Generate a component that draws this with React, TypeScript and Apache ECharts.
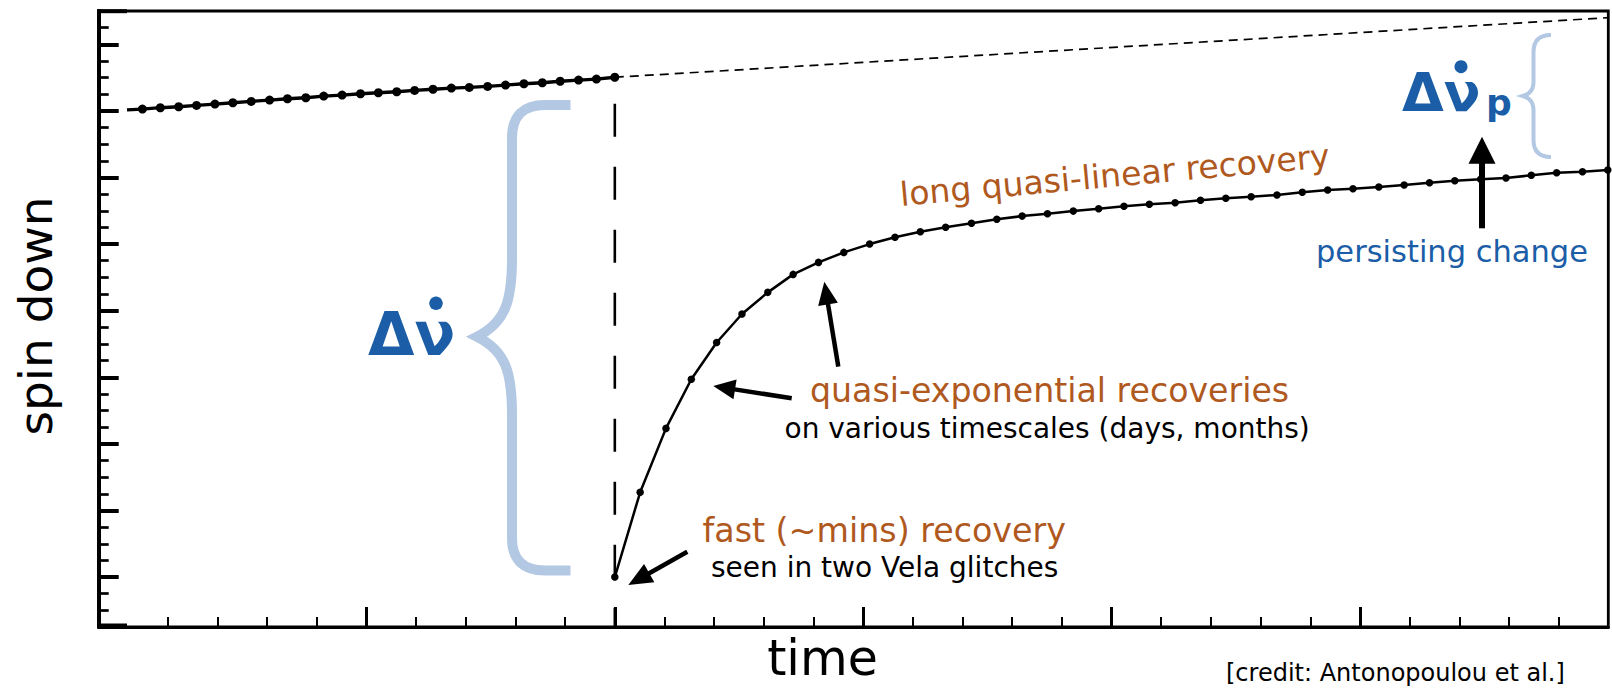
import React, { useEffect, useRef } from "react";
import * as echarts from "echarts";

// Time is measured in minor-tick units with the glitch epoch at 0;
// spin-down is in minor-tick units above the bottom of the frame.
const preLeadX = -9.82;
const preLeadY = 31.06;
const preX = [-9.51, -9.15, -8.78, -8.42, -8.05, -7.69, -7.32, -6.95, -6.59, -6.22, -5.86, -5.49, -5.12, -4.76,
  -4.39, -4.03, -3.66, -3.29, -2.93, -2.56, -2.2, -1.83, -1.46, -1.1, -0.73, -0.37, 0];
const preY = [31.11, 31.19, 31.25, 31.33, 31.41, 31.49, 31.57, 31.65, 31.73, 31.79, 31.89, 31.95, 32.03, 32.09,
  32.15, 32.23, 32.3, 32.37, 32.41, 32.47, 32.55, 32.63, 32.69, 32.78, 32.85, 32.91, 33.02];
const postX = [0, 0.51, 1.03, 1.54, 2.05, 2.56, 3.08, 3.59, 4.1, 4.61, 5.13, 5.64, 6.15, 6.66, 7.18, 7.69, 8.2,
  8.71, 9.23, 9.74, 10.25, 10.76, 11.28, 11.79, 12.3, 12.81, 13.33, 13.84, 14.35, 14.86, 15.38, 15.89, 16.4,
  16.91, 17.43, 17.94, 18.45, 18.96, 19.48, 19.99];
const postY = [3.0, 8.09, 11.93, 14.88, 17.09, 18.8, 20.1, 21.18, 21.9, 22.5, 23.0, 23.41, 23.74, 24.01, 24.25,
  24.49, 24.68, 24.82, 24.98, 25.12, 25.27, 25.39, 25.48, 25.63, 25.75, 25.84, 25.95, 26.11, 26.25, 26.32,
  26.43, 26.55, 26.68, 26.8, 26.89, 26.97, 27.13, 27.28, 27.34, 27.45];
const trendX = [0, 20];
const trendY = [33.02, 36.6];
const glitchX = [0, 0];
const glitchY = [31.43, 0];

const xRange = [-10.39, 20];
const yRange = [0, 37];
const xMajorTicks = [-5, 0, 5, 10, 15];
const xMinorTicks = [-9, -8, -7, -6, -4, -3, -2, -1, 1, 2, 3, 4, 6, 7, 8, 9, 11, 12, 13, 14, 16, 17, 18, 19];
const yMajorTicks = [3, 7, 11, 15, 19, 23, 27, 31, 35];
const yMinorTicks = [1, 2, 4, 5, 6, 8, 9, 10, 12, 13, 14, 16, 17, 18, 20, 21, 22, 24, 25, 26, 28, 29, 30, 32,
  33, 34, 36];

const INK = "#000";
const ORANGE = "#b0591e";
const BLUE = "#1b5ea7";
const PALE = "#b3c8e3";
const FONT = '"DejaVu Sans", sans-serif';

const BIG_BRACE =
  "M 570.5 105 L 545 105 Q 512 105 512 138 L 512 258 C 512 300 506 322 477 336.7 " +
  "C 506 351 512 373 512 415 L 512 538 Q 512 570.5 545 570.5 L 570.5 570.5";
const SMALL_BRACE =
  "M 1551 35 Q 1533.5 35 1533.5 52 L 1533.5 82 Q 1533.5 93 1523 96 Q 1533.5 99 1533.5 110 " +
  "L 1533.5 140 Q 1533.5 157 1551 157";

let shapesReady = false;
function registerShapes() {
  if (shapesReady) return;
  echarts.graphic.registerShape("braceBig", echarts.graphic.extendPath(BIG_BRACE, {}));
  echarts.graphic.registerShape("braceSmall", echarts.graphic.extendPath(SMALL_BRACE, {}));
  shapesReady = true;
}

const zip = (xs: number[], ys: number[]) => xs.map((x, i) => [x, ys[i]]);

function arrow(x1: number, y1: number, x2: number, y2: number, headLen: number, headW: number, lw: number) {
  const L = Math.hypot(x2 - x1, y2 - y1);
  const ux = (x2 - x1) / L;
  const uy = (y2 - y1) / L;
  const px = -uy;
  const py = ux;
  const bx = x2 - ux * headLen;
  const by = y2 - uy * headLen;
  return [
    {
      type: "line",
      z: 100,
      shape: { x1, y1, x2: bx + ux * 2, y2: by + uy * 2 },
      style: { stroke: INK, lineWidth: lw },
    },
    {
      type: "polygon",
      z: 100,
      shape: {
        points: [
          [x2, y2],
          [bx + (px * headW) / 2, by + (py * headW) / 2],
          [bx - (px * headW) / 2, by - (py * headW) / 2],
        ],
      },
      style: { fill: INK },
    },
  ];
}

function label(
  text: string,
  x: number,
  base: number,
  size: number,
  fill: string,
  weight = "normal",
  align = "left",
  rotation = 0
) {
  return {
    type: "group",
    x,
    y: base,
    rotation,
    z: 100,
    children: [
      {
        type: "text",
        x: 0,
        y: -0.35 * size,
        z: 100,
        style: {
          text,
          fill,
          font: `${weight} ${size}px ${FONT}`,
          align,
          verticalAlign: "middle",
        },
      },
    ],
  };
}

function buildOption() {
  const tickAxisBase = {
    type: "value",
    axisLabel: { show: false },
    splitLine: { show: false },
  };
  return {
    animation: false,
    backgroundColor: "#fff",
    grid: {
      left: 98.7,
      right: 3.7,
      top: 11,
      bottom: 61,
      show: true,
      borderColor: INK,
      borderWidth: 2.8,
    },
    xAxis: [
      {
        ...tickAxisBase,
        min: xRange[0],
        max: xRange[1],
        position: "bottom",
        axisLine: { show: true, onZero: false, lineStyle: { color: INK, width: 3 } },
        axisTick: { show: true, inside: true, length: 20, customValues: xMajorTicks, lineStyle: { color: INK, width: 3 } },
      },
      {
        ...tickAxisBase,
        min: xRange[0],
        max: xRange[1],
        position: "bottom",
        axisLine: { show: false, onZero: false },
        axisTick: { show: true, inside: true, length: 10, customValues: xMinorTicks, lineStyle: { color: INK, width: 2 } },
      },
    ],
    yAxis: [
      {
        ...tickAxisBase,
        min: yRange[0],
        max: yRange[1],
        position: "left",
        axisLine: { show: true, onZero: false, lineStyle: { color: INK, width: 4 } },
        axisTick: { show: true, inside: true, length: 20, customValues: yMajorTicks, lineStyle: { color: INK, width: 4 } },
      },
      {
        ...tickAxisBase,
        min: yRange[0],
        max: yRange[1],
        position: "left",
        axisLine: { show: false, onZero: false },
        axisTick: { show: true, inside: true, length: 10, customValues: yMinorTicks, lineStyle: { color: INK, width: 2.7 } },
      },
    ],
    series: [
      {
        name: "extrapolated spin-down",
        type: "line",
        data: zip(trendX, trendY),
        symbol: "none",
        silent: true,
        lineStyle: { color: INK, width: 1.7, type: [9, 6] },
        z: 1,
      },
      {
        name: "glitch epoch",
        type: "line",
        data: zip(glitchX, glitchY),
        symbol: "none",
        silent: true,
        lineStyle: { color: INK, width: 2.6, type: [33, 30] },
        z: 1,
      },
      {
        name: "before glitch",
        type: "line",
        data: [{ value: [preLeadX, preLeadY], symbol: "none" }, ...zip(preX, preY)],
        symbol: "circle",
        symbolSize: 9,
        silent: true,
        itemStyle: { color: INK },
        lineStyle: { color: INK, width: 3.3 },
        z: 3,
      },
      {
        name: "after glitch",
        type: "line",
        data: zip(postX, postY),
        symbol: "circle",
        symbolSize: 7.5,
        silent: true,
        itemStyle: { color: INK },
        lineStyle: { color: INK, width: 2.5 },
        z: 3,
      },
    ],
    graphic: [
      { type: "line", z: 50, shape: { x1: 97, y1: 11.2, x2: 127, y2: 11.2 }, style: { stroke: INK, lineWidth: 4 } },
      { type: "line", z: 50, shape: { x1: 97, y1: 625.5, x2: 127, y2: 625.5 }, style: { stroke: INK, lineWidth: 4 } },
      {
        type: "braceBig",
        z: 5,
        x: 0,
        y: 0,
        style: { fill: "none", stroke: PALE, lineWidth: 10, lineJoin: "miter", lineCap: "butt" },
      },
      {
        type: "braceSmall",
        z: 5,
        x: 0,
        y: 0,
        style: { fill: "none", stroke: PALE, lineWidth: 4, lineJoin: "miter", lineCap: "butt" },
      },
      label("Δν", 368, 355, 60, BLUE, "bold"),
      { type: "circle", z: 100, shape: { cx: 436, cy: 303.3, r: 6.7 }, style: { fill: BLUE } },
      label("Δν", 1402, 111.7, 54, BLUE, "bold"),
      label("p", 1486, 115, 36, BLUE, "bold"),
      { type: "circle", z: 100, shape: { cx: 1461, cy: 66.7, r: 6.5 }, style: { fill: BLUE } },
      label("long quasi-linear recovery", 901, 206, 33.1, ORANGE, "normal", "left", 0.0899),
      label("persisting change", 1316, 262.4, 30.5, BLUE),
      label("quasi-exponential recoveries", 810, 401.7, 33.2, ORANGE),
      label("on various timescales (days, months)", 784.5, 438.3, 28, INK),
      label("fast (~mins) recovery", 702.5, 541.7, 33.3, ORANGE),
      label("seen in two Vela glitches", 711, 577.7, 28, INK),
      label("spin down", 52, 316, 47, INK, "normal", "center", Math.PI / 2),
      label("time", 822.5, 676, 49, INK, "normal", "center"),
      label("[credit: Antonopoulou et al.]", 1226, 681, 24, INK),
      ...arrow(1482, 228.3, 1482, 136.7, 27, 27, 6),
      ...arrow(838.3, 366.7, 824.3, 281.7, 23, 20, 4.5),
      ...arrow(791.7, 398.3, 713.3, 386, 22, 20, 4.5),
      ...arrow(687.3, 551.7, 628.3, 585, 24, 21, 4.5),
    ],
  };
}

export default function App() {
  const ref = useRef<HTMLDivElement>(null);
  useEffect(() => {
    if (!ref.current) return;
    registerShapes();
    const chart = echarts.init(ref.current, null, { renderer: "svg" });
    chart.setOption(buildOption() as any);
    return () => chart.dispose();
  }, []);
  return (
    <div
      ref={ref}
      style={{ position: "absolute", left: 0, top: 0, width: 1612, height: 688, background: "#fff" }}
    />
  );
}
